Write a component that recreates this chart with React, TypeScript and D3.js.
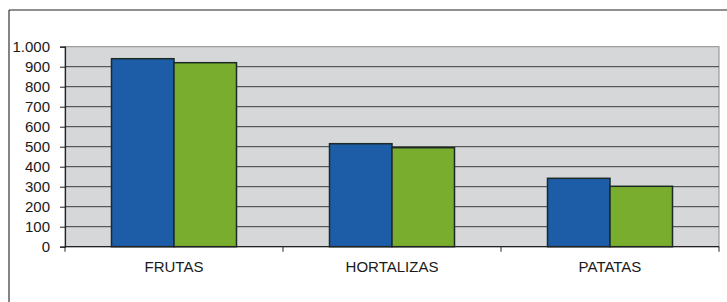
import { useRef, useEffect } from "react";
import * as d3 from "d3";

const categories = ["FRUTAS", "HORTALIZAS", "PATATAS"];
const seriesA = [940, 515, 342];
const seriesB = [920, 495, 302];
const yTicks = [0, 100, 200, 300, 400, 500, 600, 700, 800, 900, 1000];

const W = 727;
const H = 302;

export default function App() {
  const svgRef = useRef<SVGSVGElement>(null);

  useEffect(() => {
    if (!svgRef.current) return;
    const svg = d3.select(svgRef.current);
    svg.selectAll("*").remove();

    const left = 65;
    const right = 719;
    const top = 46.7;
    const bottom = 246.7;

    // outer frame: top and left edges only
    svg.append("line").attr("x1", 9).attr("x2", W).attr("y1", 10).attr("y2", 10)
      .attr("stroke", "#222").attr("stroke-width", 1.2);
    svg.append("line").attr("x1", 9).attr("x2", 9).attr("y1", 10).attr("y2", H)
      .attr("stroke", "#333").attr("stroke-width", 1.2);

    const x = d3.scaleBand<string>().domain(categories).range([left, right]);
    const y = d3.scaleLinear().domain([0, 1000]).range([bottom, top]);

    // plot background
    svg.append("rect").attr("x", left).attr("y", top)
      .attr("width", right - left).attr("height", bottom - top)
      .attr("fill", "#d6d7d9").attr("stroke", "#8a8a8a").attr("stroke-width", 1);

    // gridlines
    svg.append("g").selectAll("line").data(yTicks.filter((t) => t > 0 && t < 1000)).join("line")
      .attr("x1", left).attr("x2", right)
      .attr("y1", (d) => y(d)).attr("y2", (d) => y(d))
      .attr("stroke", "#3a3a3a").attr("stroke-width", 1);

    // bars
    const inner = d3.scaleBand<string>().domain(["a", "b"]).range([0, 125]);
    const offset = (x.bandwidth() - 125) / 2;
    const g = svg.append("g");
    const series = [
      { key: "a", values: seriesA, color: "#1d5ca6" },
      { key: "b", values: seriesB, color: "#79ad2d" },
    ];
    series.forEach((s) => {
      g.selectAll(null).data(categories).join("rect")
        .attr("x", (c) => (x(c) ?? 0) + offset + (inner(s.key) ?? 0))
        .attr("y", (_, i) => y(s.values[i]))
        .attr("width", inner.bandwidth())
        .attr("height", (_, i) => bottom - y(s.values[i]))
        .attr("fill", s.color)
        .attr("stroke", "#1b2a24").attr("stroke-width", 1.5);
    });

    // y axis
    const yAxis = svg.append("g").attr("transform", `translate(${left},0)`)
      .call(d3.axisLeft(y).tickValues(yTicks).tickSize(5).tickPadding(10)
        .tickFormat((d) => (d as number) === 1000 ? "1.000" : String(d)));
    yAxis.select(".domain").attr("stroke", "#222").attr("stroke-width", 1.2);
    yAxis.selectAll(".tick line").attr("stroke", "#222");
    yAxis.selectAll("text").attr("font-family", "Liberation Sans, Arial, sans-serif")
      .attr("font-size", 15).attr("fill", "#1a1a1a");

    // x axis
    const xAxis = svg.append("g").attr("transform", `translate(0,${bottom})`);
    xAxis.append("line").attr("x1", left).attr("x2", right).attr("y1", 0).attr("y2", 0)
      .attr("stroke", "#222").attr("stroke-width", 1.2);
    const bounds = [left, ...categories.map((c) => (x(c) ?? 0) + x.bandwidth())];
    xAxis.selectAll("line.tk").data(bounds).join("line").attr("class", "tk")
      .attr("x1", (d) => d).attr("x2", (d) => d).attr("y1", 0).attr("y2", 5)
      .attr("stroke", "#222");
    xAxis.selectAll("text").data(categories).join("text")
      .attr("x", (c) => (x(c) ?? 0) + x.bandwidth() / 2)
      .attr("y", 25)
      .attr("text-anchor", "middle")
      .attr("font-family", "Liberation Sans, Arial, sans-serif")
      .attr("font-size", 15).attr("fill", "#1a1a1a")
      .text((c) => c);
  }, []);

  return (
    <svg ref={svgRef} width={W} height={H}
      style={{ position: "absolute", left: 0, top: 0, background: "#fff" }} />
  );
}
